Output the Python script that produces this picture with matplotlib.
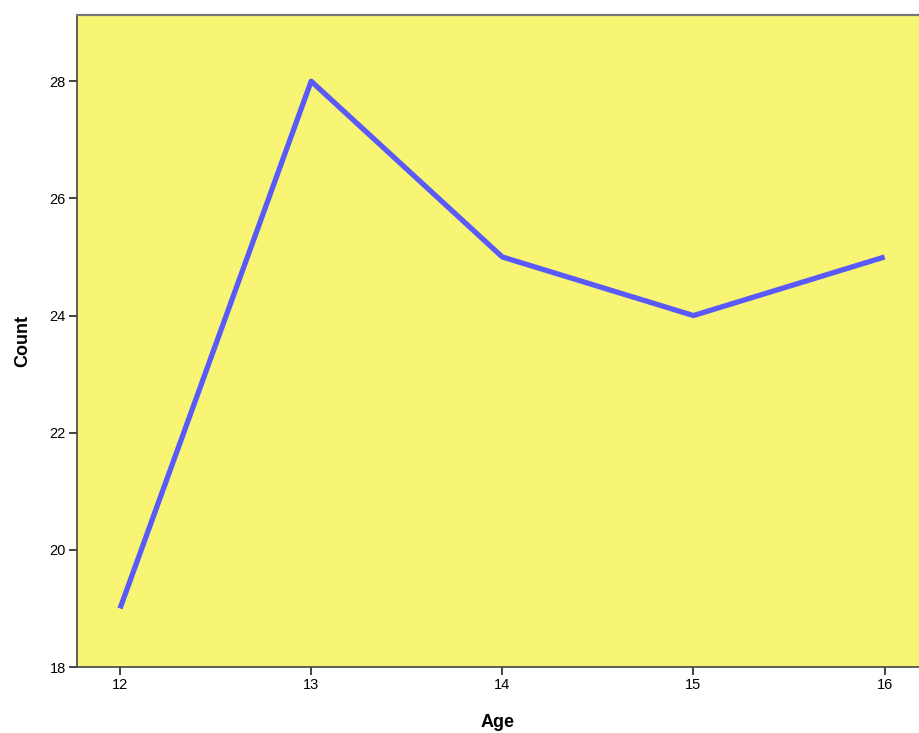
import matplotlib
matplotlib.use("Agg")
import matplotlib.pyplot as plt

plt.rcParams["font.family"] = ["Liberation Sans", "DejaVu Sans"]

ages = [12, 13, 14, 15, 16]
counts = [19, 28, 25, 24, 25]
y_ticks = [18, 20, 22, 24, 26, 28]

fig = plt.figure(figsize=(9.19, 7.33), dpi=100)
ax = fig.add_axes([0.0838, 0.0900, 0.9162, 0.8895])
ax.set_facecolor("#f9f574")

ax.plot(ages, counts, color="#5a5af8", linewidth=3.8, solid_capstyle="butt")

ax.set_xlim(11.775, 16.18)
ax.set_ylim(18, 29.13)
ax.set_xticks(ages)
ax.set_yticks(y_ticks)
ax.tick_params(direction="out", length=6, width=1.2, color="#222222",
               labelsize=10.5, pad=2)

for side in ["left", "bottom", "top"]:
    ax.spines[side].set_color("#444444")
    ax.spines[side].set_linewidth(1.2)
ax.spines["top"].set_color("#777777")
ax.spines["top"].set_linewidth(1.6)
ax.spines["right"].set_visible(False)

ax.set_xlabel("Age", fontsize=13, fontweight="bold", labelpad=16)
ax.set_ylabel("Count", fontsize=13, fontweight="bold", labelpad=13)

fig.savefig("out.png", dpi=100)
